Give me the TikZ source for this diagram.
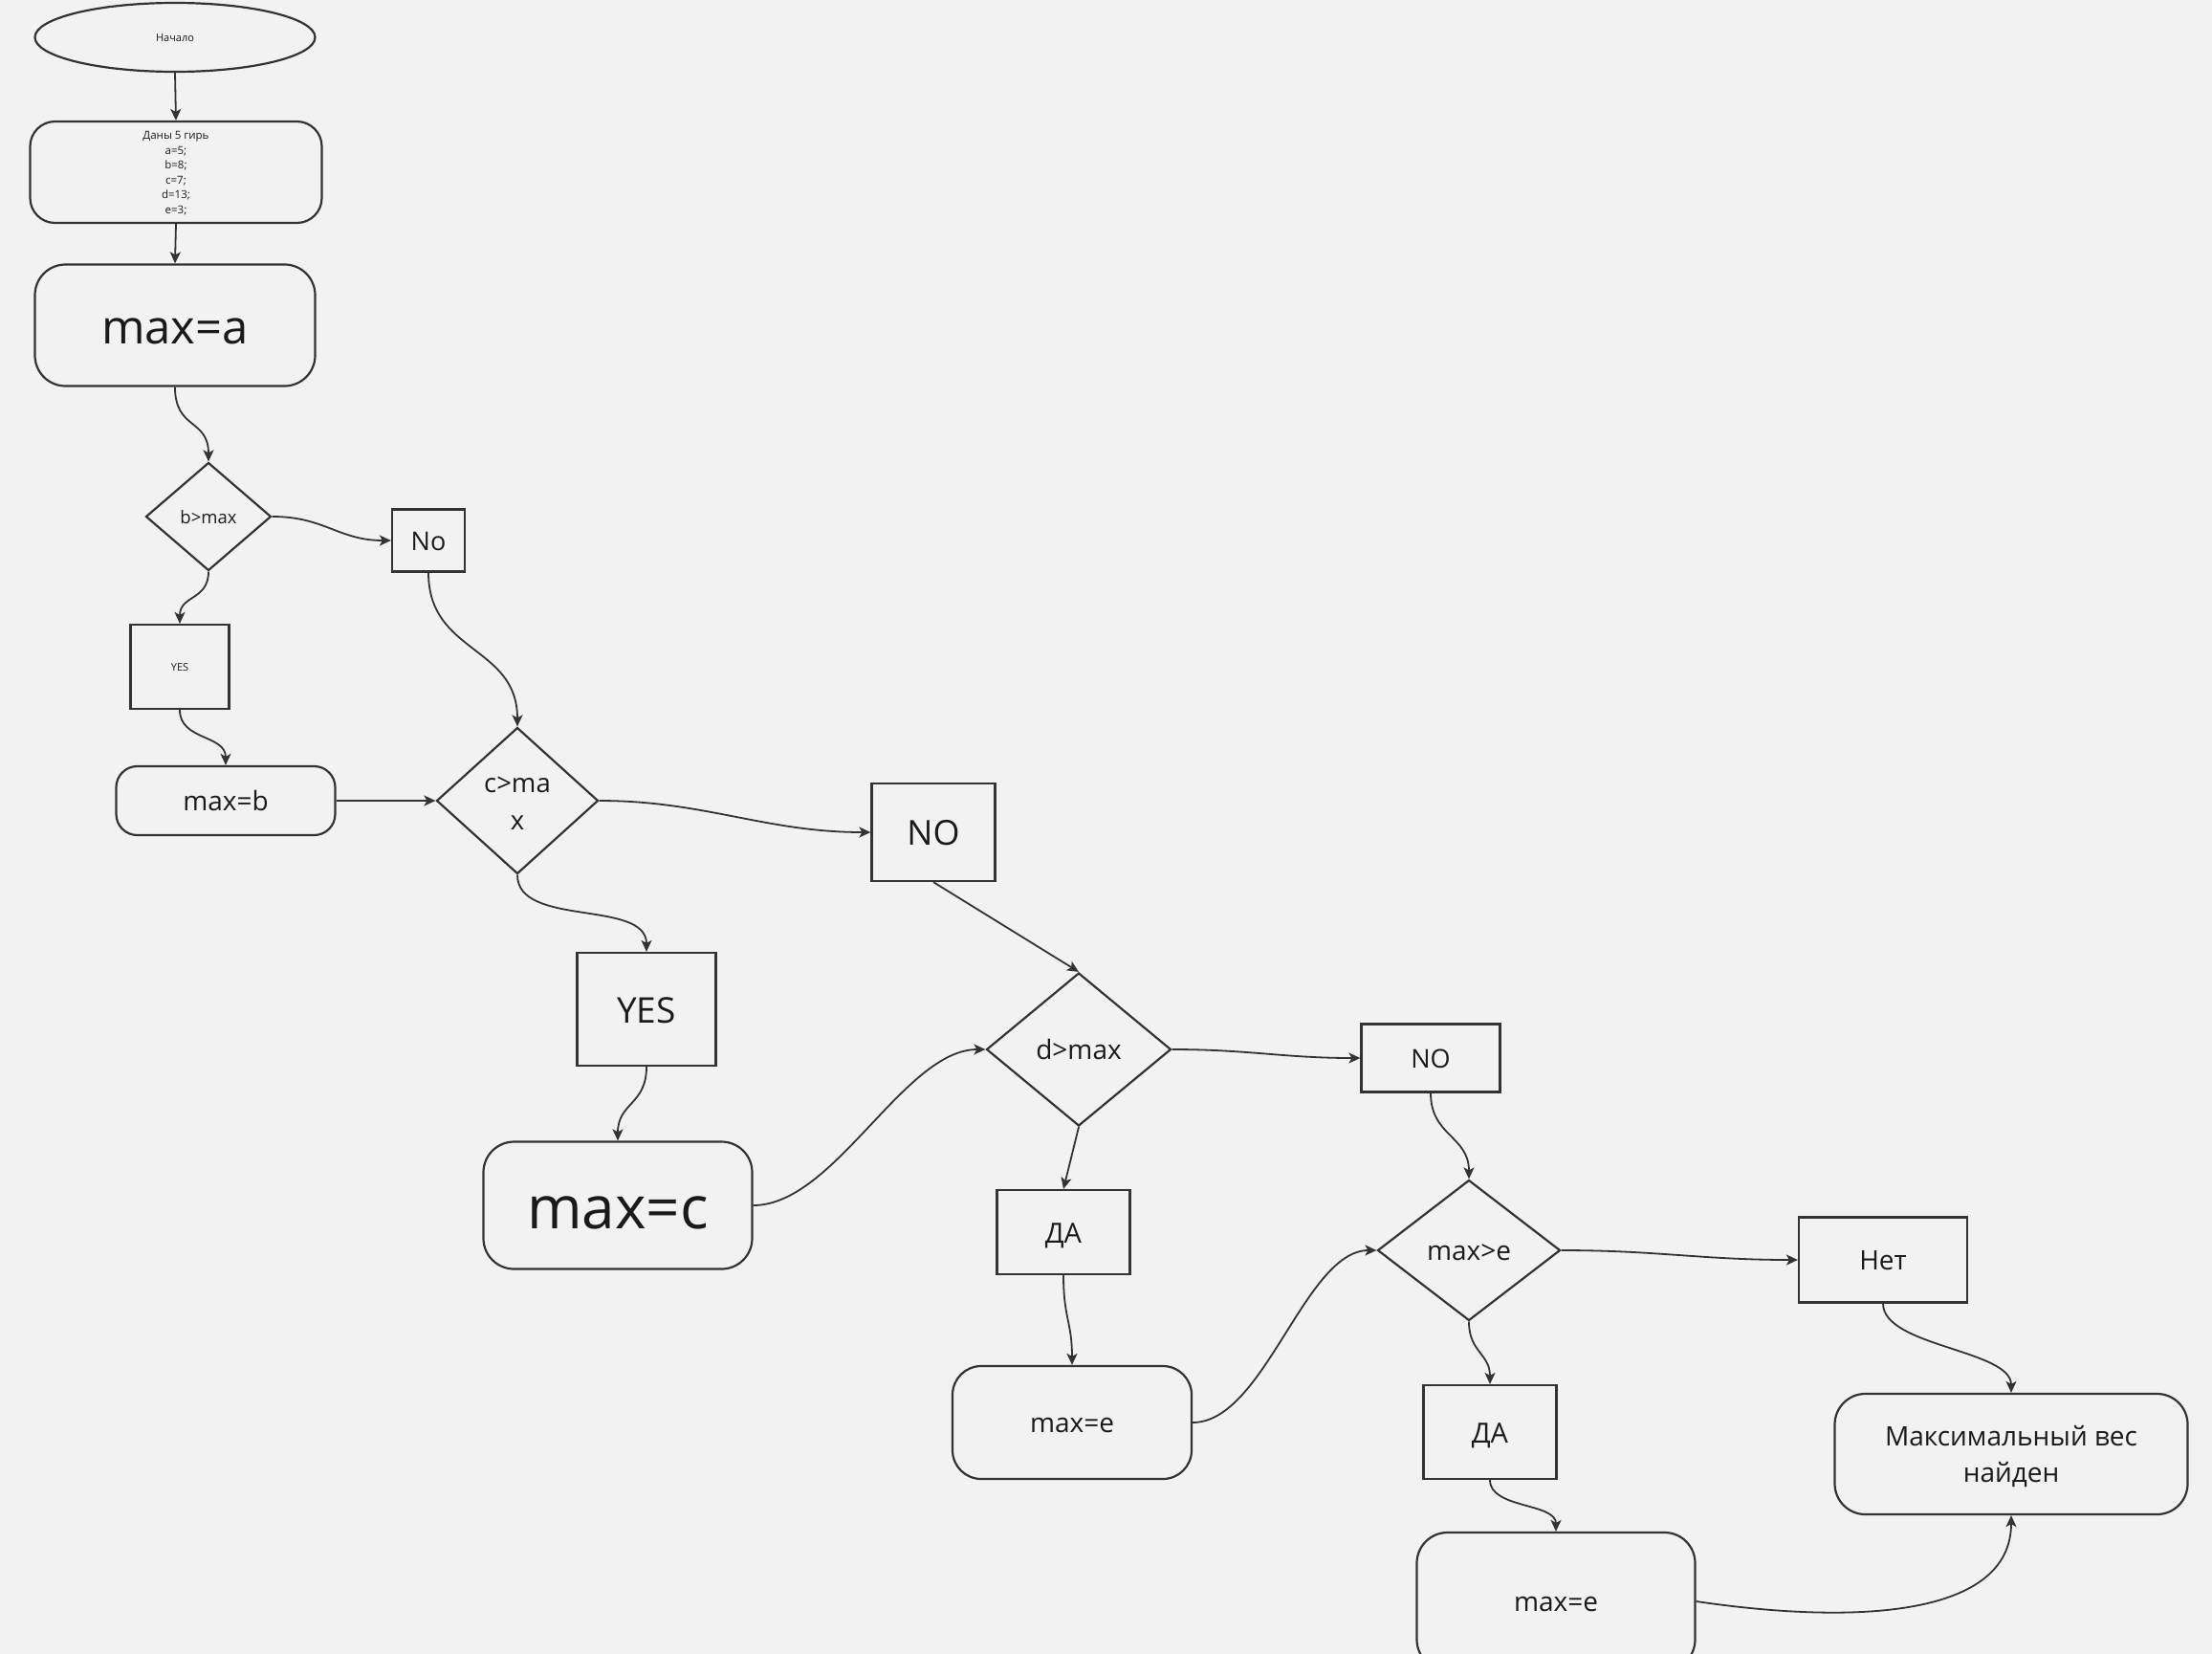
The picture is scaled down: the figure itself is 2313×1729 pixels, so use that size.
\documentclass[tikz,border=0pt]{standalone}
\usepackage{fontspec}
\setmainfont{Open Sans}
\usetikzlibrary{shapes.geometric,arrows.meta,calc}
\definecolor{bg}{HTML}{F2F2F2}
\definecolor{ln}{HTML}{333333}
\definecolor{tx}{HTML}{1A1A1A}
\newcommand\fsz[2]{\fontsize{#1}{#2}\selectfont}
\newcommand\sth{\rule{0pt}{1.069em}}
\newcommand\std{\rule[-0.293em]{0pt}{0.293em}}
\tikzset{
  base/.style={draw=ln, line width=1.1pt, text=tx, inner sep=0pt, align=center},
  rbox/.style={base, rectangle, rounded corners=#1},
  rbox/.default=15pt,
  sbox/.style={base, rectangle},
  dia/.style={base, diamond},
  oval/.style={base, ellipse},
  arr/.style={draw=ln, line width=0.9pt, -{Stealth[length=6pt,width=5.5pt,inset=1.5pt]}},
}
\begin{document}
\begin{tikzpicture}[x=0.5pt,y=-0.5pt]
\useasboundingbox (0,0) rectangle (2313,1729);
\fill[bg] (0,0) rectangle (2313,1729);
\clip (0,0) rectangle (2313,1729);

% nodes
\node[oval, minimum width=146.5pt, minimum height=36pt, font=\fsz{5.5}{7}] (start) at (183,39) {\sth Начало\std};
\node[rbox=13pt, minimum width=152.5pt, minimum height=53pt, font=\fsz{5.75}{7.75}] (given) at (184,180) {\sth Даны 5 гирь\\a=5;\\b=8;\\c=7;\\d=13;\\e=3;\std};
\node[rbox=16pt, minimum width=146.5pt, minimum height=63.5pt, font=\fsz{24.5}{30}] (maxa) at (183,340) {\sth max=a\std};
\node[dia, minimum width=65.5pt, minimum height=56.5pt, font=\fsz{9.25}{12}] (bmax) at (218,540) {\sth b>max\std};
\node[sbox, minimum width=38pt, minimum height=32.5pt, font=\fsz{13.5}{18}] (no) at (448,565) {\sth No\std};
\node[sbox, minimum width=51.5pt, minimum height=44pt, font=\fsz{5.5}{7}] (yes1) at (188,697) {\sth YES\std};
\node[rbox=11pt, minimum width=114.5pt, minimum height=36pt, font=\fsz{14}{19}] (maxb) at (236,837) {\sth max=b\std};
\node[dia, minimum width=84.5pt, minimum height=76.5pt, font=\fsz{13.75}{19.5}] (cmax) at (541,837) {\sth c>ma\\x\std};
\node[sbox, minimum width=64.5pt, minimum height=51pt, font=\fsz{18}{24}] (no1) at (976,870) {\sth NO\std};
\node[sbox, minimum width=72.5pt, minimum height=59pt, font=\fsz{18.5}{24}] (yes2) at (676,1055) {\sth YES\std};
\node[rbox=16pt, minimum width=140.5pt, minimum height=66.5pt, font=\fsz{31}{38}] (maxc) at (646,1260) {\sth max=c\std};
\node[dia, minimum width=96.5pt, minimum height=80pt, font=\fsz{14}{19}] (dmax) at (1128,1097) {\sth d>max\std};
\node[sbox, minimum width=69.5pt, minimum height=44pt, font=\fsz{14.5}{19}] (da1) at (1112,1288) {\sth ДА\std};
\node[sbox, minimum width=72.5pt, minimum height=35.5pt, font=\fsz{13.5}{18}] (no2) at (1496,1106) {\sth NO\std};
\node[rbox=15pt, minimum width=125pt, minimum height=59pt, font=\fsz{14}{19}] (maxe1) at (1121,1487) {\sth max=e\std};
\node[dia, minimum width=95.5pt, minimum height=73.5pt, font=\fsz{14}{19}] (maxge) at (1536,1307) {\sth max>e\std};
\node[sbox, minimum width=88pt, minimum height=44.5pt, font=\fsz{14}{19}] (net) at (1969,1317) {\sth Нет\std};
\node[sbox, minimum width=69.5pt, minimum height=49pt, font=\fsz{14.5}{19}] (da2) at (1558,1497) {\sth ДА\std};
\node[rbox=16pt, minimum width=184.5pt, minimum height=63pt, font=\fsz{14}{19}] (final) at (2103,1520) {\sth Максимальный вес\\найден\std};
\node[rbox=16pt, minimum width=145.5pt, minimum height=72pt, font=\fsz{14}{19}] (maxe2) at (1627,1674) {\sth max=e\std};

% connectors
\draw[arr] (start.south) -- (given.north);
\draw[arr] (given.south) -- (maxa.north);
\draw[arr] (maxa.south) .. controls +(0,45) and ($(bmax.north)+(0,-45)$) .. (bmax.north);
\draw[arr] (bmax.east) .. controls +(55,0) and ($(no.west)+(-55,0)$) .. (no.west);
\draw[arr] (bmax.south) .. controls +(0,30) and ($(yes1.north)+(0,-30)$) .. (yes1.north);
\draw[arr] (no.south) .. controls +(0,85) and ($(cmax.north)+(0,-85)$) .. (cmax.north);
\draw[arr] (yes1.south) .. controls +(0,32) and ($(maxb.north)+(0,-32)$) .. (maxb.north);
\draw[arr] (maxb.east) -- (cmax.west);
\draw[arr] (cmax.east) .. controls +(110,0) and ($(no1.west)+(-110,0)$) .. (no1.west);
\draw[arr] (cmax.south) .. controls +(0,55) and ($(yes2.north)+(0,-55)$) .. (yes2.north);
\draw[arr] (no1.south) -- (dmax.north);
\draw[arr] (yes2.south) .. controls +(0,40) and ($(maxc.north)+(0,-40)$) .. (maxc.north);
\draw[arr] (maxc.east) .. controls +(85,0) and ($(dmax.west)+(-85,0)$) .. (dmax.west);
\draw[arr] (dmax.east) .. controls +(80,0) and ($(no2.west)+(-80,0)$) .. (no2.west);
\draw[arr] (dmax.south) -- (da1.north);
\draw[arr] (da1.south) .. controls +(0,45) and ($(maxe1.north)+(0,-45)$) .. (maxe1.north);
\draw[arr] (maxe1.east) .. controls +(75,0) and ($(maxge.west)+(-75,0)$) .. (maxge.west);
\draw[arr] (no2.south) .. controls +(0,45) and ($(maxge.north)+(0,-45)$) .. (maxge.north);
\draw[arr] (maxge.east) .. controls +(100,0) and ($(net.west)+(-100,0)$) .. (net.west);
\draw[arr] (maxge.south) .. controls +(0,32) and ($(da2.north)+(0,-32)$) .. (da2.north);
\draw[arr] (net.south) .. controls +(0,45) and ($(final.north)+(0,-45)$) .. (final.north);
\draw[arr] (da2.south) .. controls +(0,30) and ($(maxe2.north)+(0,-30)$) .. (maxe2.north);
\draw[arr] (maxe2.east) .. controls +(170,25) and ($(final.south)+(0,105)$) .. (final.south);
\end{tikzpicture}
\end{document}
